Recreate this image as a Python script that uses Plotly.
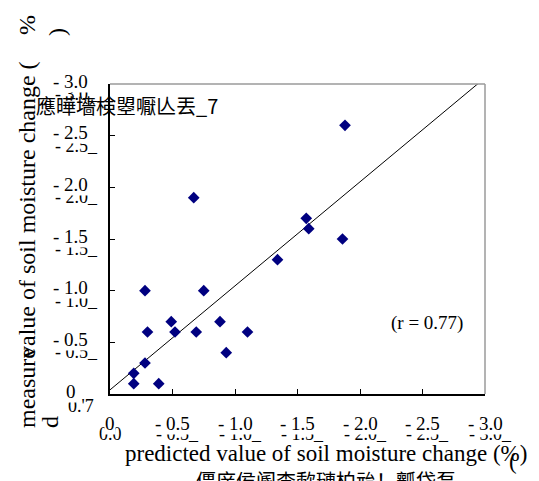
import plotly.graph_objects as go

# ---- data ----
predicted = [-1.88, -0.67, -1.57, -1.59, -1.86, -1.34, -0.28, -0.75, -0.49, -0.88,
             -0.30, -0.52, -0.69, -1.10, -0.93, -0.28, -0.19, -0.19, -0.39]
measured = [-2.6, -1.9, -1.7, -1.6, -1.5, -1.3, -1.0, -1.0, -0.7, -0.7,
            -0.6, -0.6, -0.6, -0.6, -0.4, -0.3, -0.2, -0.1, -0.1]
line_x = [0.0, -3.0]
line_y = [-0.04, -3.06]
tick_vals = [0.0, -0.5, -1.0, -1.5, -2.0, -2.5, -3.0]
x_tick_text = ["0", "- 0.5", "- 1.0", "- 1.5", "- 2.0", "- 2.5", "- 3.0"]
x_tick_dup = ["0.0", "- 0.5_", "- 1.0_", "- 1.5_", "- 2.0_", "- 2.5_", "- 3.0_"]
y_tick_text = ["0", "- 0.5", "- 1.0", "- 1.5", "- 2.0", "- 2.5", "- 3.0"]
y_tick_dup = ["0.'7", "- 0.5_", "- 1.0_", "- 1.5_", "- 2.0_", "- 2.5_", "- 3.0_"]
r_label = "(r = 0.77)"
x_title = "predicted value of soil moisture change (%)"
y_title_a = "value of soil moisture change ("
y_title_b = "measure"
garbled_top = "應曄墻検曌嚈亾丟_7"
garbled_bottom = "僵庠侯阍柰歃璉柏兘！瓤岱乭"

OFF = 8  # page body margin
W, H = 539 - OFF, 481 - OFF
# plot frame in page pixels
L, R, T, B = 110, 485, 84, 394

def px(x):
    return (x - L) / (R - L)

def py(y):
    return (B - y) / (B - T)

SERIF = "Liberation Serif"
CJK = "Noto Sans CJK SC"

fig = go.Figure()
fig.add_trace(go.Scatter(x=line_x, y=line_y, mode="lines",
                         line=dict(color="black", width=1), showlegend=False,
                         hoverinfo="skip"))
fig.add_trace(go.Scatter(x=predicted, y=measured, mode="markers",
                         marker=dict(symbol="diamond", size=9, color="#000080"),
                         showlegend=False))

ann = []
for v, t in zip(tick_vals, x_tick_dup):
    ann.append(dict(x=v, xref="x", y=0, yref="paper", text=t, showarrow=False,
                    xanchor="center", yanchor="middle",
                    xshift=(0 if v == 0 else 5), yshift=-40,
                    font=dict(family=SERIF, size=18, color="black")))
for v, t in zip(tick_vals, y_tick_dup):
    if v == 0:
        ann.append(dict(x=px(81), xref="paper", y=py(406), yref="paper", text=t,
                        showarrow=False, xanchor="center", yanchor="middle",
                        font=dict(family=SERIF, size=18, color="black")))
    else:
        ann.append(dict(x=0, xref="paper", y=v, yref="y", text=t, showarrow=False,
                        xanchor="right", yanchor="middle", xshift=-10, yshift=-10,
                        font=dict(family=SERIF, size=18, color="black")))
for v, t in zip(tick_vals, x_tick_text):
    ann.append(dict(x=v, xref="x", y=0, yref="paper", text=t, showarrow=False,
                    xanchor="center", yanchor="middle", yshift=-29,
                    bgcolor="white", borderpad=0,
                    font=dict(family=SERIF, size=19, color="black")))
for v, t in zip(tick_vals, y_tick_text):
    ann.append(dict(x=0, xref="paper", y=v, yref="y", text=t, showarrow=False,
                    xanchor="right", yanchor="middle", xshift=(-33 if v == 0 else -21),
                    yshift=3, bgcolor="white", borderpad=0,
                    font=dict(family=SERIF, size=19, color="black")))
ann.append(dict(x=px(34), xref="paper", y=py(106), yref="paper", text=garbled_top,
                showarrow=False, xanchor="left", yanchor="middle",
                font=dict(family=CJK, size=20, color="black")))
ann.append(dict(x=px(427), xref="paper", y=py(323), yref="paper", text=r_label,
                showarrow=False, xanchor="center", yanchor="middle",
                font=dict(family=SERIF, size=19, color="black")))
ann.append(dict(x=px(326), xref="paper", y=py(453), yref="paper", text=x_title,
                showarrow=False, xanchor="center", yanchor="middle",
                font=dict(family=SERIF, size=23, color="black")))
ann.append(dict(x=px(513), xref="paper", y=py(462), yref="paper", text="(",
                showarrow=False, xanchor="center", yanchor="middle",
                font=dict(family=SERIF, size=23, color="black")))
ann.append(dict(x=px(326), xref="paper", y=py(480), yref="paper", text=garbled_bottom,
                showarrow=False, xanchor="center", yanchor="middle",
                font=dict(family=CJK, size=20, color="black")))
for txt, xx, yy in [(y_title_a, 27, 210), (y_title_b, 27, 388), ("d", 50, 422),
                    ("%", 27, 25), (")", 57, 32)]:
    ann.append(dict(x=px(xx), xref="paper", y=py(yy), yref="paper", text=txt,
                    showarrow=False, textangle=-90, xanchor="center", yanchor="middle",
                    font=dict(family=SERIF, size=24, color="black")))

shapes = [
    dict(type="line", xref="paper", yref="paper", x0=0, x1=1, y0=1, y1=1,
         line=dict(color="#9a9a9a", width=1.5)),
    dict(type="line", xref="paper", yref="paper", x0=1, x1=1, y0=0, y1=1,
         line=dict(color="#9a9a9a", width=1.5)),
]

fig.update_layout(
    width=W, height=H,
    margin=dict(l=L - OFF, r=(539 - R), t=T - OFF, b=(481 - B), pad=0),
    paper_bgcolor="white", plot_bgcolor="white",
    showlegend=False,
    annotations=ann, shapes=shapes,
    xaxis=dict(range=[0, -3], tickvals=tick_vals, showticklabels=False,
               ticks="inside", ticklen=5, tickcolor="black", showgrid=False,
               zeroline=False, showline=True, linecolor="black", linewidth=1.5),
    yaxis=dict(range=[0, -3], tickvals=tick_vals, showticklabels=False,
               ticks="inside", ticklen=5, tickcolor="black", showgrid=False,
               zeroline=False, showline=True, linecolor="black", linewidth=1.5),
)

fig.write_html("out.html")
